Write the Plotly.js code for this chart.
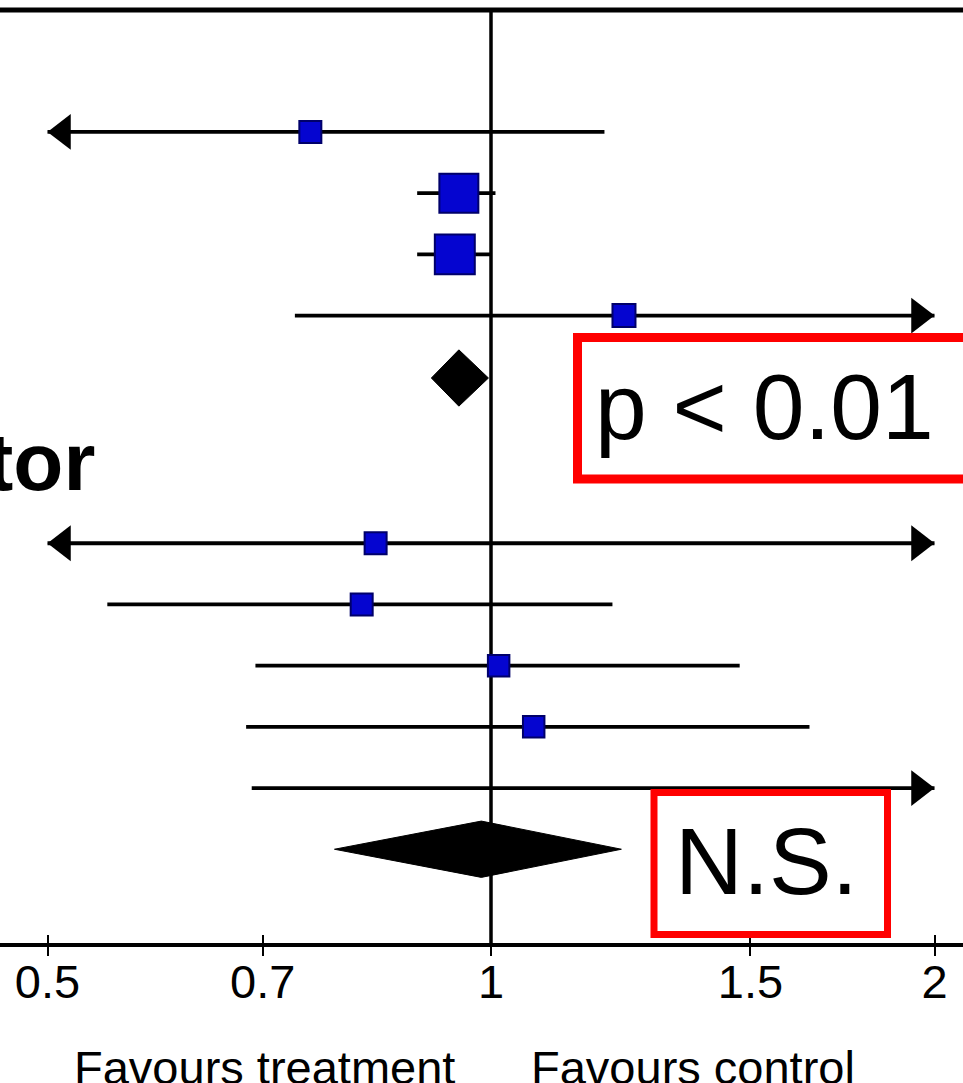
<!DOCTYPE html>
<html><head><meta charset="utf-8">
<script src="https://cdn.plot.ly/plotly-3.0.1.min.js"></script>
<style>html,body{margin:0;padding:0;background:#fff;overflow:hidden}#chart{width:963px;height:1083px}</style>
</head><body><div id="chart"></div>
<script>
// ---- data ----
// group 1: individual studies
const g1Row    = [1, 2, 3, 4];
const g1Est    = [0.754, 0.951, 0.945, 1.231];
const g1Lo     = [0.42, 0.891, 0.891, 0.736];
const g1Hi     = [1.194, 1.007, 0.999, 2.6];
const g1Weight = [8.6, 27.0, 28.4, 9.4];
// group 1 pooled estimate
const g1PoolRow = 5.02;
const g1PoolEst = 0.951, g1PoolLo = 0.911, g1PoolHi = 0.996;

// group 2: individual studies
const g2Row    = [7.72, 8.72, 9.72, 10.72, 11.72];
const g2Est    = [0.835, 0.817, 1.012, 1.069, null];
const g2Lo     = [0.40, 0.549, 0.692, 0.682, 0.688];
const g2Hi     = [2.6, 1.209, 1.475, 1.645, 2.6];
const g2Weight = [8.6, 8.6, 8.2, 8.2, null];
// group 2 pooled estimate
const g2PoolRow = 12.72;
const g2PoolEst = 0.985, g2PoolLo = 0.783, g2PoolHi = 1.226;

const groupLabel = 'tor';
const pText1 = 'p < 0.01';
const pText2 = 'N.S.';
const tickVals = [0.5, 0.7, 1, 1.5, 2];
const tickText = ['0.5', '0.7', '1', '1.5', '2'];
const favLeft = 'Favours treatment';
const favRight = 'Favours control';
const axisMin = 0.5, axisMax = 2;

// ---- build traces ----
const rows = g1Row.concat(g2Row);
const est = g1Est.concat(g2Est);
const lo = g1Lo.concat(g2Lo);
const hi = g1Hi.concat(g2Hi);
const wt = g1Weight.concat(g2Weight);

const traces = [];
// CI lines
const ciX = [], ciY = [];
rows.forEach((r, i) => {
  ciX.push(Math.max(lo[i], axisMin), Math.min(hi[i], axisMax), null);
  ciY.push(r, r, null);
});
traces.push({type:'scatter', mode:'lines', x:ciX, y:ciY, line:{color:'#000', width:3.8}, hoverinfo:'skip'});
// arrowheads for truncated CIs (tip on the axis limit)
const arX = [], arY = [], arA = [];
rows.forEach((r, i) => {
  if (lo[i] < axisMin) { arX.push(axisMin); arY.push(r); arA.push(-90); }
  if (hi[i] > axisMax) { arX.push(axisMax); arY.push(r); arA.push(90); }
});
const arSize = 31;
traces.push({type:'scatter', mode:'markers', x:arX, y:arY, cliponaxis:false,
  marker:{symbol:'triangle-up', size:arSize, angle:arA, standoff:arSize/2, color:'#000', opacity:1, line:{width:0}},
  hoverinfo:'skip'});
// study squares
traces.push({type:'scatter', mode:'markers', x:est, y:rows,
  marker:{symbol:'square', size:wt.map(w => w == null ? 0 : 7.5*Math.sqrt(w)), color:'#0505d0', opacity:1,
          line:{color:'#00006a', width:2}}, hoverinfo:'x'});
// pooled diamonds
const dh = 0.46;
[[g1PoolRow, g1PoolLo, g1PoolEst, g1PoolHi], [g2PoolRow, g2PoolLo, g2PoolEst, g2PoolHi]].forEach(d => {
  traces.push({type:'scatter', mode:'lines', fill:'toself', fillcolor:'#000',
    x:[d[1], d[2], d[3], d[2], d[1]], y:[d[0], d[0]-dh, d[0], d[0]+dh, d[0]],
    line:{color:'#000', width:1}, hoverinfo:'skip'});
});
// dummy trace for the overlaid tick axis
traces.push({type:'scatter', mode:'markers', x:[1], y:[1], xaxis:'x2', marker:{opacity:0}, hoverinfo:'skip'});

// ---- layout ----
const pxX = px => px / 963;
const pxY = py => (943 - py) / 933;
const xr = [-0.33327, 0.32037];
const layout = {
  width:963, height:1083, margin:{l:0, r:0, t:10, b:140},
  paper_bgcolor:'#fff', plot_bgcolor:'#fff', showlegend:false,
  xaxis:{type:'log', range:xr, tickvals:tickVals, ticktext:tickText, ticks:'outside', ticklen:9, tickwidth:2,
    tickcolor:'#000', showline:true, linewidth:4, linecolor:'#000', showgrid:false, zeroline:false,
    ticklabelstandoff:-14,
    tickfont:{family:'Liberation Sans, Arial, sans-serif', size:47, color:'#000'}, fixedrange:true},
  xaxis2:{type:'log', overlaying:'x', anchor:'y', side:'bottom', range:xr, tickvals:tickVals, ticks:'inside',
    ticklen:8, tickwidth:2, tickcolor:'#000', showticklabels:false, showgrid:false, zeroline:false, showline:false, fixedrange:true},
  yaxis:{range:[14.252, -0.993], visible:false, fixedrange:true},
  shapes:[
    {type:'line', xref:'paper', yref:'paper', x0:0, x1:1, y0:1, y1:1, line:{color:'#000', width:5}},
    {type:'line', xref:'x', yref:'paper', x0:1, x1:1, y0:0, y1:1, layer:'below', line:{color:'#000', width:3.5}},
    {type:'rect', xref:'paper', yref:'paper', x0:pxX(577.5), x1:pxX(1010), y0:pxY(479), y1:pxY(337.5),
      line:{color:'#ff0000', width:9}, fillcolor:'rgba(0,0,0,0)'},
    {type:'rect', xref:'paper', yref:'paper', x0:pxX(654), x1:pxX(887.5), y0:pxY(934.5), y1:pxY(792.5),
      line:{color:'#ff0000', width:7}, fillcolor:'rgba(0,0,0,0)'}
  ],
  annotations:[
    {text:groupLabel, xref:'paper', yref:'y', x:pxX(97), y:6.38, xanchor:'right', yanchor:'middle', showarrow:false,
      font:{family:'Liberation Sans, Arial, sans-serif', size:82, color:'#000', weight:'bold'}},
    {text:pText1, xref:'paper', yref:'paper', x:pxX(764), y:pxY(407), xanchor:'center', yanchor:'middle', showarrow:false,
      font:{family:'Liberation Sans, Arial, sans-serif', size:93, color:'#000'}},
    {text:pText2, xref:'paper', yref:'paper', x:pxX(766), y:pxY(861), xanchor:'center', yanchor:'middle', showarrow:false,
      font:{family:'Liberation Sans, Arial, sans-serif', size:94, color:'#000'}},
    {text:favLeft, xref:'x', yref:'paper', x:Math.log10(1), xshift:-34, y:pxY(1067), xanchor:'right', yanchor:'middle', showarrow:false,
      font:{family:'Liberation Sans, Arial, sans-serif', size:47, color:'#000'}},
    {text:favRight, xref:'x', yref:'paper', x:Math.log10(1), xshift:38, y:pxY(1067), xanchor:'left', yanchor:'middle', showarrow:false,
      font:{family:'Liberation Sans, Arial, sans-serif', size:47, color:'#000'}}
  ]
};
Plotly.newPlot('chart', traces, layout, {displayModeBar:false, staticPlot:true});
</script></body></html>
